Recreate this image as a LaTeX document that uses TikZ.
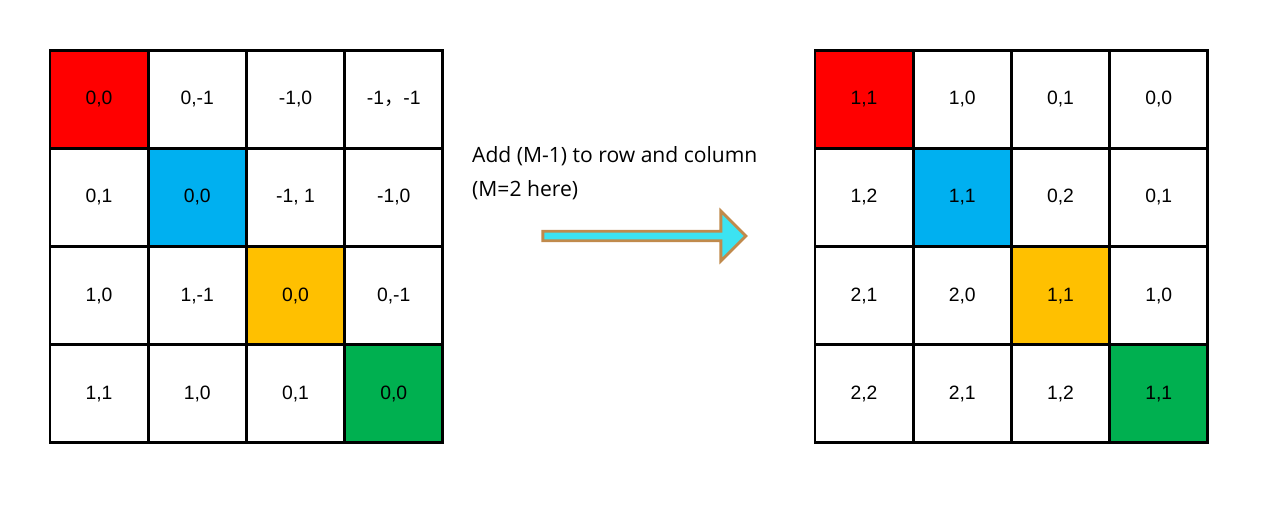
\documentclass[tikz,border=0pt]{standalone}
\usepackage{fontspec}
\setmainfont{Liberation Sans}
\newfontfamily\labelfont{Open Sans}
\newfontfamily\cjk{Noto Sans CJK SC}
\usetikzlibrary{shapes.arrows}
\definecolor{cred}{HTML}{FF0000}
\definecolor{cblue}{HTML}{00B0F0}
\definecolor{corange}{HTML}{FFC000}
\definecolor{cgreen}{HTML}{00B050}
\definecolor{arrowfill}{HTML}{3CE3F2}
\definecolor{arrowdraw}{HTML}{C08A4C}
\begin{document}
\begin{tikzpicture}[x=0.02cm,y=-0.02cm,
    cell/.style = {draw, line width=1.6pt, minimum size=1.96cm, inner sep=0pt, font=\fontsize{11}{13}\selectfont}]
    \useasboundingbox (0,0) rectangle (1280,515);
    % left matrix
    \foreach \r/\a/\b/\c/\d in {1/0{,}0/0{,}-1/-1{,}0/-1{\cjk ，}-1, 2/0{,}1/0{,}0/-1{,} 1/-1{,}0,
                                3/1{,}0/1{,}-1/0{,}0/0{,}-1, 4/1{,}1/1{,}0/0{,}1/0{,}0}{
        \node[cell] (L\r-1) at (99,{50+98.25*(\r-0.5)}) {\a};
        \node[cell] (L\r-2) at (197.25,{50+98.25*(\r-0.5)}) {\b};
        \node[cell] (L\r-3) at (295.5,{50+98.25*(\r-0.5)}) {\c};
        \node[cell] (L\r-4) at (393.75,{50+98.25*(\r-0.5)}) {\d};
    }
    % right matrix
    \foreach \r/\a/\b/\c/\d in {1/1{,}1/1{,}0/0{,}1/0{,}0, 2/1{,}2/1{,}1/0{,}2/0{,}1,
                                3/2{,}1/2{,}0/1{,}1/1{,}0, 4/2{,}2/2{,}1/1{,}2/1{,}1}{
        \node[cell] (R\r-1) at (864,{50+98.25*(\r-0.5)}) {\a};
        \node[cell] (R\r-2) at (962.25,{50+98.25*(\r-0.5)}) {\b};
        \node[cell] (R\r-3) at (1060.5,{50+98.25*(\r-0.5)}) {\c};
        \node[cell] (R\r-4) at (1158.75,{50+98.25*(\r-0.5)}) {\d};
    }
    % diagonal colours
    \foreach \i/\col in {1/cred, 2/cblue, 3/corange, 4/cgreen}{
        \fill[\col] (L\i-\i.north west) rectangle (L\i-\i.south east);
        \node[cell] at (L\i-\i) {0,0};
        \fill[\col] (R\i-\i.north west) rectangle (R\i-\i.south east);
        \node[cell] at (R\i-\i) {1,1};
    }
    \node[anchor=west, align=left, font=\labelfont\fontsize{12}{19}\selectfont] (label) at (466,173)
        {Add (M-1) to row and column\\(M=2 here)};
    \node[single arrow, draw=arrowdraw, fill=arrowfill, line width=1.6pt,
        minimum width=1.0cm, single arrow head extend=0.12cm, minimum height=4.06cm,
        inner sep=0pt] (arrow) at (642,236) {};
\end{tikzpicture}
\end{document}
